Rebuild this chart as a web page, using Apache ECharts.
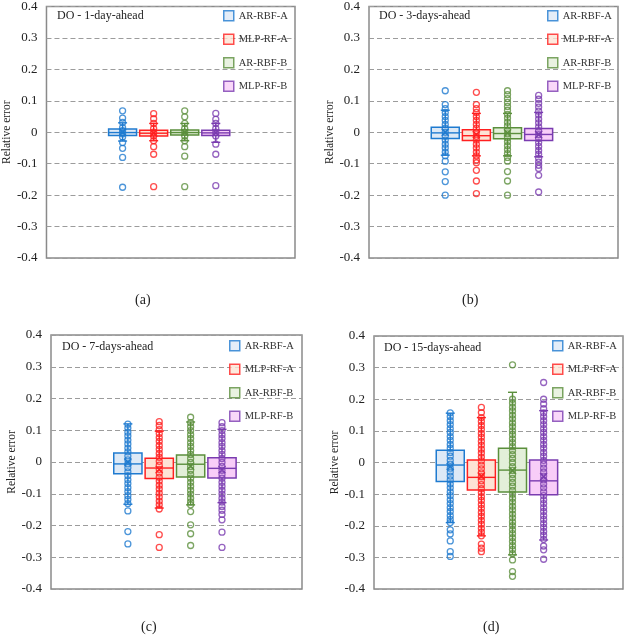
<!DOCTYPE html>
<html><head><meta charset="utf-8">
<script src="https://cdn.jsdelivr.net/npm/echarts@6/dist/echarts.min.js"></script>
<style>html,body{margin:0;padding:0;background:#fff}#c{width:624px;height:641px}</style>
</head><body><div id="c"></div>
<script>
const models = ['AR-RBF-A', 'MLP-RF-A', 'AR-RBF-B', 'MLP-RF-B'];
const panelTitles = ['DO - 1-day-ahead', 'DO - 3-days-ahead', 'DO - 7-days-ahead', 'DO - 15-days-ahead'];
const panelLetters = ['(a)', '(b)', '(c)', '(d)'];
const yAxisName = 'Relative error';

// box statistics per model: [lower whisker, Q1, median, Q3, upper whisker]
const day1Stats = [[-0.028, -0.010, -0.001, 0.010, 0.030], [-0.027, -0.012, -0.003, 0.006, 0.028], [-0.027, -0.009, -0.001, 0.007, 0.028], [-0.032, -0.010, -0.002, 0.006, 0.028]];
const day1Mean = [0.000, -0.003, -0.001, -0.002];
const day3Stats = [[-0.073, -0.020, -0.002, 0.016, 0.070], [-0.075, -0.026, -0.011, 0.008, 0.060], [-0.075, -0.021, -0.004, 0.014, 0.060], [-0.078, -0.026, -0.007, 0.012, 0.063]];
const day3Mean = [0.000, -0.007, -0.002, -0.007];
const day7Stats = [[-0.133, -0.037, -0.006, 0.028, 0.120], [-0.145, -0.052, -0.019, 0.012, 0.097], [-0.135, -0.047, -0.007, 0.022, 0.126], [-0.128, -0.050, -0.020, 0.013, 0.103]];
const day7Mean = [0.000, -0.024, -0.013, -0.024];
const day15Stats = [[-0.190, -0.060, -0.008, 0.039, 0.156], [-0.232, -0.087, -0.047, 0.008, 0.142], [-0.292, -0.093, -0.024, 0.045, 0.222], [-0.245, -0.102, -0.058, 0.008, 0.164]];
const day15Mean = [-0.013, -0.043, -0.025, -0.045];

// individual points (all data points shown as circles)
const day1ARRBFA = [0.068, 0.045, 0.031, 0.015, 0.005, -0.005, -0.015, -0.033, -0.051, -0.080, -0.175];
const day1MLPRFA = [0.059, 0.043, 0.028, 0.012, 0.000, -0.012, -0.027, -0.046, -0.070, -0.173];
const day1ARRBFB = [0.068, 0.049, 0.028, 0.012, 0.000, -0.012, -0.027, -0.046, -0.076, -0.173];
const day1MLPRFB = [0.060, 0.041, 0.028, 0.012, 0.000, -0.012, -0.038, -0.070, -0.170];

const day3ARRBFA = [0.132, 0.088, 0.075, 0.063, 0.050, 0.038, 0.025, 0.013, 0.000, -0.013, -0.025, -0.038, -0.050, -0.063, -0.075, -0.092, -0.126, -0.157, -0.200];
const day3MLPRFA = [0.127, 0.088, 0.075, 0.063, 0.050, 0.038, 0.025, 0.013, 0.000, -0.013, -0.025, -0.038, -0.050, -0.063, -0.075, -0.088, -0.097, -0.121, -0.155, -0.195];
const day3ARRBFB = [0.132, 0.120, 0.107, 0.095, 0.082, 0.070, 0.057, 0.045, 0.032, 0.020, 0.007, -0.005, -0.018, -0.030, -0.043, -0.055, -0.068, -0.080, -0.092, -0.125, -0.155, -0.200];
const day3MLPRFB = [0.117, 0.105, 0.092, 0.080, 0.067, 0.055, 0.042, 0.030, 0.017, 0.005, -0.008, -0.020, -0.033, -0.045, -0.058, -0.070, -0.083, -0.095, -0.105, -0.115, -0.137, -0.190];

const day7ARRBFA = [0.119, 0.107, 0.094, 0.082, 0.069, 0.057, 0.044, 0.032, 0.019, 0.007, -0.006, -0.018, -0.031, -0.043, -0.056, -0.068, -0.081, -0.093, -0.106, -0.118, -0.131, -0.154, -0.219, -0.258];
const day7MLPRFA = [0.127, 0.115, 0.102, 0.090, 0.077, 0.065, 0.052, 0.040, 0.027, 0.015, 0.002, -0.010, -0.023, -0.035, -0.048, -0.060, -0.073, -0.085, -0.098, -0.110, -0.123, -0.135, -0.148, -0.229, -0.269];
const day7ARRBFB = [0.141, 0.124, 0.111, 0.099, 0.086, 0.074, 0.061, 0.049, 0.036, 0.024, 0.011, -0.001, -0.014, -0.026, -0.039, -0.051, -0.064, -0.076, -0.089, -0.101, -0.114, -0.126, -0.135, -0.156, -0.198, -0.226, -0.263];
const day7MLPRFB = [0.124, 0.111, 0.099, 0.086, 0.074, 0.061, 0.049, 0.036, 0.024, 0.011, -0.001, -0.014, -0.026, -0.039, -0.051, -0.064, -0.076, -0.089, -0.101, -0.114, -0.126, -0.140, -0.152, -0.165, -0.182, -0.221, -0.269];

const day15ARRBFA = [0.157, 0.145, 0.132, 0.120, 0.107, 0.095, 0.082, 0.070, 0.057, 0.045, 0.032, 0.020, 0.007, -0.005, -0.018, -0.030, -0.043, -0.055, -0.068, -0.080, -0.093, -0.105, -0.118, -0.130, -0.143, -0.155, -0.168, -0.180, -0.190, -0.213, -0.226, -0.248, -0.282, -0.297];
const day15MLPRFA = [0.174, 0.158, 0.142, 0.130, 0.117, 0.105, 0.092, 0.080, 0.067, 0.055, 0.042, 0.030, 0.017, 0.005, -0.008, -0.020, -0.033, -0.045, -0.058, -0.070, -0.083, -0.095, -0.108, -0.120, -0.133, -0.145, -0.158, -0.170, -0.183, -0.195, -0.208, -0.220, -0.232, -0.258, -0.271, -0.282];
const day15ARRBFB = [0.309, 0.200, 0.188, 0.175, 0.163, 0.150, 0.138, 0.125, 0.113, 0.100, 0.088, 0.075, 0.063, 0.050, 0.038, 0.025, 0.013, 0.000, -0.013, -0.025, -0.038, -0.050, -0.063, -0.075, -0.088, -0.100, -0.113, -0.125, -0.138, -0.150, -0.163, -0.175, -0.188, -0.200, -0.213, -0.225, -0.238, -0.250, -0.263, -0.275, -0.288, -0.308, -0.345, -0.360];
const day15MLPRFB = [0.253, 0.200, 0.185, 0.170, 0.157, 0.145, 0.132, 0.120, 0.107, 0.095, 0.082, 0.070, 0.057, 0.045, 0.032, 0.020, 0.007, -0.005, -0.018, -0.030, -0.043, -0.055, -0.068, -0.080, -0.093, -0.105, -0.118, -0.130, -0.143, -0.155, -0.168, -0.180, -0.193, -0.205, -0.218, -0.230, -0.243, -0.264, -0.276, -0.306];

const panels = [
  { stats: day1Stats, mean: day1Mean, points: [day1ARRBFA, day1MLPRFA, day1ARRBFB, day1MLPRFB] },
  { stats: day3Stats, mean: day3Mean, points: [day3ARRBFA, day3MLPRFA, day3ARRBFB, day3MLPRFB] },
  { stats: day7Stats, mean: day7Mean, points: [day7ARRBFA, day7MLPRFA, day7ARRBFB, day7MLPRFB] },
  { stats: day15Stats, mean: day15Mean, points: [day15ARRBFA, day15MLPRFA, day15ARRBFB, day15MLPRFB] }
];

// ---- styling / layout ----
const strokeColors = ['#1f7bd0', '#ff2020', '#5b8f3c', '#7a3cb0'];
const fillColors = ['#dde9f6', '#fde3d5', '#e3efd9', '#f8cdf8'];
const serif = '"Liberation Serif", "Times New Roman", serif';
const grids = [
  { left: 46, top: 5, width: 249, height: 253 },
  { left: 369, top: 5, width: 249, height: 253 },
  { left: 51, top: 335, width: 251, height: 254 },
  { left: 374, top: 336, width: 249, height: 253 }
];
const titlePos = [[57, 10], [379, 10], [62, 341], [384, 342]];
const letterPos = [[135, 293], [462, 293], [141, 620], [483, 620]];
const legendPos = [[223, 10], [547, 10], [229, 340], [552, 340]];
const slotOffset = 2.45;

const chart = echarts.init(document.getElementById('c'), null, { renderer: 'canvas' });

function bodyRender(params, api) {
  const k = params.dataIndex;
  const x = api.value(0);
  const q1 = api.coord([x, api.value(2)]);
  const q3 = api.coord([x, api.value(4)]);
  const w = api.size([0.9, 0])[0];
  return {
    type: 'rect',
    shape: { x: q1[0] - w / 2, y: q3[1], width: w, height: q1[1] - q3[1] },
    style: { fill: fillColors[k], stroke: strokeColors[k], lineWidth: 1.5 }
  };
}
function marksRender(params, api) {
  const k = params.dataIndex;
  const x = api.value(0);
  const lo = api.coord([x, api.value(1)]);
  const q1 = api.coord([x, api.value(2)]);
  const md = api.coord([x, api.value(3)]);
  const q3 = api.coord([x, api.value(4)]);
  const hi = api.coord([x, api.value(5)]);
  const mn = api.coord([x, api.value(6)]);
  const w = api.size([0.9, 0])[0];
  const cx = md[0];
  const cap = 4.5, m = 3.5;
  const st = { stroke: strokeColors[k], lineWidth: 1.4 };
  const ln = (x1, y1, x2, y2) => ({ type: 'line', shape: { x1, y1, x2, y2 }, style: st });
  return {
    type: 'group',
    children: [
      ln(cx, hi[1], cx, q3[1]),
      ln(cx, q1[1], cx, lo[1]),
      ln(cx - cap, hi[1], cx + cap, hi[1]),
      ln(cx - cap, lo[1], cx + cap, lo[1]),
      ln(cx - w / 2, md[1], cx + w / 2, md[1]),
      ln(cx - m, mn[1] - m, cx + m, mn[1] + m),
      ln(cx - m, mn[1] + m, cx + m, mn[1] - m)
    ]
  };
}

const option = {
  animation: false,
  backgroundColor: '#fff',
  title: [], legend: [], grid: [], xAxis: [], yAxis: [], series: []
};

panels.forEach((p, i) => {
  option.grid.push(Object.assign({ show: true, borderColor: '#8a8a8a', borderWidth: 1.5, backgroundColor: '#fff' }, grids[i]));
  option.xAxis.push({ type: 'value', gridIndex: i, min: 0, max: 8, show: false });
  option.yAxis.push({
    type: 'value', gridIndex: i, min: -0.4, max: 0.4, interval: 0.1,
    name: yAxisName, nameLocation: 'middle', nameGap: 32, nameRotate: 90,
    nameTextStyle: { fontFamily: serif, fontSize: 11.5, color: '#222' },
    axisLine: { show: false }, axisTick: { show: false },
    axisLabel: { margin: 9, fontFamily: serif, fontSize: 13, color: '#222',
      formatter: v => String(Math.round(v * 10) / 10) },
    splitLine: { show: true, lineStyle: { color: '#9c9c9c', width: 1, type: [5, 3] } }
  });
  option.title.push({ text: panelTitles[i], left: titlePos[i][0], top: titlePos[i][1], padding: 0,
    textStyle: { fontFamily: serif, fontSize: 12, fontWeight: 'normal', color: '#222' } });
  option.title.push({ text: panelLetters[i], left: letterPos[i][0], top: letterPos[i][1], padding: 0,
    textStyle: { fontFamily: serif, fontSize: 14, fontWeight: 'normal', color: '#222' } });
  option.legend.push({
    left: legendPos[i][0], top: legendPos[i][1], orient: 'vertical', padding: 0,
    itemWidth: 10, itemHeight: 10, itemGap: 12, selectedMode: false,
    textStyle: { fontFamily: serif, fontSize: 10.5, color: '#333' },
    data: models.map((m, k) => ({ name: m, icon: 'rect',
      itemStyle: { color: fillColors[k], borderColor: strokeColors[k], borderWidth: 1.5 } }))
  });
  const boxData = p.stats.map((s, k) => [k + slotOffset, s[0], s[1], s[2], s[3], s[4], p.mean[k]]);
  option.series.push({ type: 'custom', xAxisIndex: i, yAxisIndex: i, z: 1, renderItem: bodyRender,
    encode: { x: 0, y: [1, 2, 3, 4, 5] }, data: boxData, silent: true });
  p.points.forEach((arr, k) => {
    option.series.push({
      type: 'scatter', name: models[k], xAxisIndex: i, yAxisIndex: i, z: 2,
      symbol: 'circle', symbolSize: 6,
      itemStyle: { color: 'rgba(255,255,255,0)', borderColor: strokeColors[k], borderWidth: 1.3 },
      data: arr.map(v => [k + slotOffset, v])
    });
  });
  option.series.push({ type: 'custom', xAxisIndex: i, yAxisIndex: i, z: 3, renderItem: marksRender,
    encode: { x: 0, y: [1, 2, 3, 4, 5, 6] }, data: boxData, silent: true });
});

chart.setOption(option);
</script>
</body></html>
